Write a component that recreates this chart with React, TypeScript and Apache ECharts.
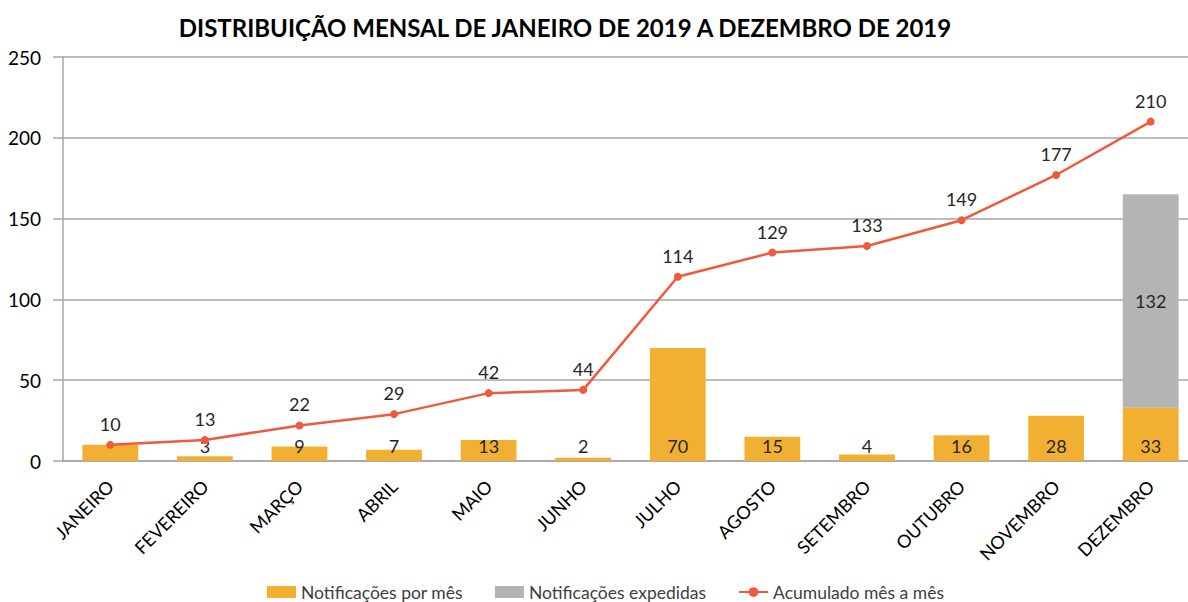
import React, { useEffect, useRef } from "react";
import * as echarts from "echarts";

const months = ["JANEIRO", "FEVEREIRO", "MARÇO", "ABRIL", "MAIO", "JUNHO", "JULHO", "AGOSTO", "SETEMBRO", "OUTUBRO", "NOVEMBRO", "DEZEMBRO"];
const perMonth = [10, 3, 9, 7, 13, 2, 70, 15, 4, 16, 28, 33];
const expedidas = [null, null, null, null, null, null, null, null, null, null, null, 132];
const cumulative = [10, 13, 22, 29, 42, 44, 114, 129, 133, 149, 177, 210];
const title = "DISTRIBUIÇÃO MENSAL DE JANEIRO DE 2019 A DEZEMBRO DE 2019";

const FONT = "Lato";

export default function App() {
  const ref = useRef<HTMLDivElement>(null);
  useEffect(() => {
    const chart = echarts.init(ref.current!, null, { renderer: "svg" });
    chart.setOption({
      animation: false,
      backgroundColor: "#ffffff",
      title: {
        text: title,
        left: 560,
        textAlign: "center",
        top: 10,
        textStyle: { fontFamily: FONT, fontSize: 24, fontWeight: "bold", color: "#000" },
      },
      legend: {
        bottom: -4,
        left: 262,
        itemWidth: 29,
        itemHeight: 12,
        itemGap: 32,
        textStyle: { fontFamily: FONT, fontSize: 17.5, color: "#404040" },
        data: [
          { name: "Notificações por mês", icon: "rect" },
          { name: "Notificações expedidas", icon: "rect" },
          { name: "Acumulado mês a mês" },
        ],
      },
      grid: { left: 63, right: 0, top: 57, bottom: 141 },
      xAxis: {
        type: "category",
        data: months,
        axisLine: { lineStyle: { color: "#a6a6a6", width: 1.5 } },
        axisTick: { show: false },
        axisLabel: {
          rotate: 45,
          interval: 0,
          margin: 22,
          fontFamily: FONT,
          fontSize: 18,
          color: "#000",
        },
      },
      yAxis: {
        type: "value",
        min: 0,
        max: 250,
        interval: 50,
        axisLine: { show: true, lineStyle: { color: "#a6a6a6", width: 1.5 } },
        axisTick: { show: true, length: 10, lineStyle: { color: "#a6a6a6", width: 1.5 } },
        splitLine: { lineStyle: { color: "#a6a6a6", width: 1.5 } },
        axisLabel: { margin: 22, fontFamily: FONT, fontSize: 19, color: "#000" },
      },
      series: [
        {
          name: "Notificações por mês",
          type: "bar",
          stack: "s",
          data: perMonth.map((v, i) => (i === 0 ? { value: v, label: { show: false } } : v)),
          barWidth: "59%",
          itemStyle: { color: "#F2B033" },
          label: {
            show: true,
            position: "insideBottom",
            distance: 6,
            fontFamily: FONT,
            fontSize: 18,
            color: "#262626",
          },
        },
        {
          name: "Notificações expedidas",
          type: "bar",
          stack: "s",
          data: expedidas,
          barWidth: "59%",
          itemStyle: { color: "#B4B4B4" },
          label: {
            show: true,
            position: "inside",
            fontFamily: FONT,
            fontSize: 18,
            color: "#262626",
          },
        },
        {
          name: "Acumulado mês a mês",
          type: "line",
          data: cumulative,
          symbol: "circle",
          symbolSize: 8,
          lineStyle: { color: "#F05A3C", width: 2.5 },
          itemStyle: { color: "#F05A3C" },
          label: {
            show: true,
            position: "top",
            distance: 8,
            fontFamily: FONT,
            fontSize: 18,
            color: "#262626",
          },
        },
      ],
    });
    return () => chart.dispose();
  }, []);
  return <div ref={ref} style={{ position: "fixed", left: 0, top: 0, width: 1198, height: 602 }} />;
}
